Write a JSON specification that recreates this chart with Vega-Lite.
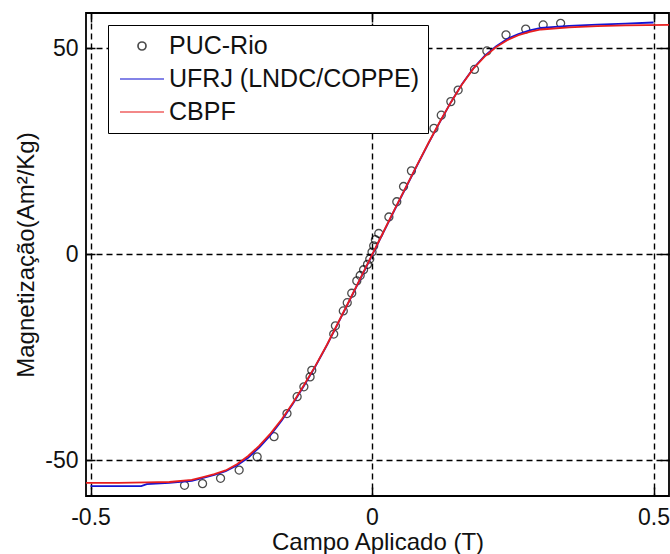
{
  "$schema": "https://vega.github.io/schema/vega-lite/v6.json",
  "width": 583,
  "height": 483,
  "autosize": {"type": "none"},
  "padding": {"left": 86, "top": 13, "right": 1, "bottom": 58},
  "background": "white",
  "config": {
    "font": "Liberation Sans",
    "view": {"stroke": "#000000", "strokeWidth": 1.8},
    "axis": {
      "domain": false,
      "grid": true,
      "gridColor": "#000000",
      "gridDash": [6, 4],
      "gridWidth": 1.4,
      "gridOpacity": 1,
      "tickColor": "#000000",
      "tickSize": -9,
      "tickWidth": 1.5,
      "labelFont": "Liberation Sans",
      "labelFontSize": 23,
      "labelColor": "#111111",
      "titleFont": "Liberation Sans",
      "titleFontSize": 24,
      "titleFontWeight": "normal",
      "titleColor": "#111111"
    },
    "legend": {
      "labelFont": "Liberation Sans",
      "labelFontSize": 25,
      "labelColor": "#111111",
      "labelLimit": 500
    }
  },
  "datasets": {
    "puc": [
      {"campo": -0.333, "mag": -56.1, "serie": "PUC-Rio"},
      {"campo": -0.301, "mag": -55.7, "serie": "PUC-Rio"},
      {"campo": -0.269, "mag": -54.4, "serie": "PUC-Rio"},
      {"campo": -0.236, "mag": -52.4, "serie": "PUC-Rio"},
      {"campo": -0.204, "mag": -49.2, "serie": "PUC-Rio"},
      {"campo": -0.174, "mag": -44.3, "serie": "PUC-Rio"},
      {"campo": -0.151, "mag": -38.7, "serie": "PUC-Rio"},
      {"campo": -0.133, "mag": -34.6, "serie": "PUC-Rio"},
      {"campo": -0.121, "mag": -32.2, "serie": "PUC-Rio"},
      {"campo": -0.110, "mag": -29.8, "serie": "PUC-Rio"},
      {"campo": -0.107, "mag": -28.2, "serie": "PUC-Rio"},
      {"campo": -0.068, "mag": -19.4, "serie": "PUC-Rio"},
      {"campo": -0.065, "mag": -17.4, "serie": "PUC-Rio"},
      {"campo": -0.051, "mag": -13.8, "serie": "PUC-Rio"},
      {"campo": -0.044, "mag": -11.8, "serie": "PUC-Rio"},
      {"campo": -0.036, "mag": -9.5, "serie": "PUC-Rio"},
      {"campo": -0.027, "mag": -6.5, "serie": "PUC-Rio"},
      {"campo": -0.021, "mag": -5.2, "serie": "PUC-Rio"},
      {"campo": -0.015, "mag": -3.8, "serie": "PUC-Rio"},
      {"campo": -0.008, "mag": -2.5, "serie": "PUC-Rio"},
      {"campo": -0.004, "mag": -1.2, "serie": "PUC-Rio"},
      {"campo": 0.000, "mag": 0.5, "serie": "PUC-Rio"},
      {"campo": 0.003, "mag": 2.0, "serie": "PUC-Rio"},
      {"campo": 0.006, "mag": 3.5, "serie": "PUC-Rio"},
      {"campo": 0.012, "mag": 5.0, "serie": "PUC-Rio"},
      {"campo": 0.030, "mag": 9.0, "serie": "PUC-Rio"},
      {"campo": 0.044, "mag": 12.7, "serie": "PUC-Rio"},
      {"campo": 0.056, "mag": 16.4, "serie": "PUC-Rio"},
      {"campo": 0.070, "mag": 20.2, "serie": "PUC-Rio"},
      {"campo": 0.110, "mag": 30.5, "serie": "PUC-Rio"},
      {"campo": 0.123, "mag": 33.7, "serie": "PUC-Rio"},
      {"campo": 0.140, "mag": 37.0, "serie": "PUC-Rio"},
      {"campo": 0.153, "mag": 39.8, "serie": "PUC-Rio"},
      {"campo": 0.182, "mag": 44.8, "serie": "PUC-Rio"},
      {"campo": 0.204, "mag": 49.3, "serie": "PUC-Rio"},
      {"campo": 0.238, "mag": 53.2, "serie": "PUC-Rio"},
      {"campo": 0.273, "mag": 54.6, "serie": "PUC-Rio"},
      {"campo": 0.304, "mag": 55.6, "serie": "PUC-Rio"},
      {"campo": 0.335, "mag": 56.0, "serie": "PUC-Rio"}
    ],
    "curvas": [
      {"campo": -0.500, "mag": -56.3, "serie": " UFRJ (LNDC/COPPE)"},
      {"campo": -0.410, "mag": -56.3, "serie": " UFRJ (LNDC/COPPE)"},
      {"campo": -0.400, "mag": -55.8, "serie": " UFRJ (LNDC/COPPE)"},
      {"campo": -0.360, "mag": -55.5, "serie": " UFRJ (LNDC/COPPE)"},
      {"campo": -0.320, "mag": -55.0, "serie": " UFRJ (LNDC/COPPE)"},
      {"campo": -0.300, "mag": -54.3, "serie": " UFRJ (LNDC/COPPE)"},
      {"campo": -0.280, "mag": -53.6, "serie": " UFRJ (LNDC/COPPE)"},
      {"campo": -0.260, "mag": -52.7, "serie": " UFRJ (LNDC/COPPE)"},
      {"campo": -0.240, "mag": -51.3, "serie": " UFRJ (LNDC/COPPE)"},
      {"campo": -0.220, "mag": -49.4, "serie": " UFRJ (LNDC/COPPE)"},
      {"campo": -0.200, "mag": -46.9, "serie": " UFRJ (LNDC/COPPE)"},
      {"campo": -0.180, "mag": -43.9, "serie": " UFRJ (LNDC/COPPE)"},
      {"campo": -0.160, "mag": -40.3, "serie": " UFRJ (LNDC/COPPE)"},
      {"campo": -0.140, "mag": -36.2, "serie": " UFRJ (LNDC/COPPE)"},
      {"campo": -0.120, "mag": -31.8, "serie": " UFRJ (LNDC/COPPE)"},
      {"campo": -0.100, "mag": -27.1, "serie": " UFRJ (LNDC/COPPE)"},
      {"campo": -0.080, "mag": -22.1, "serie": " UFRJ (LNDC/COPPE)"},
      {"campo": -0.060, "mag": -16.7, "serie": " UFRJ (LNDC/COPPE)"},
      {"campo": -0.040, "mag": -11.3, "serie": " UFRJ (LNDC/COPPE)"},
      {"campo": -0.020, "mag": -5.8, "serie": " UFRJ (LNDC/COPPE)"},
      {"campo": 0.000, "mag": -0.3, "serie": " UFRJ (LNDC/COPPE)"},
      {"campo": 0.020, "mag": 5.2, "serie": " UFRJ (LNDC/COPPE)"},
      {"campo": 0.040, "mag": 10.7, "serie": " UFRJ (LNDC/COPPE)"},
      {"campo": 0.060, "mag": 16.1, "serie": " UFRJ (LNDC/COPPE)"},
      {"campo": 0.080, "mag": 21.5, "serie": " UFRJ (LNDC/COPPE)"},
      {"campo": 0.100, "mag": 26.8, "serie": " UFRJ (LNDC/COPPE)"},
      {"campo": 0.120, "mag": 31.9, "serie": " UFRJ (LNDC/COPPE)"},
      {"campo": 0.140, "mag": 36.8, "serie": " UFRJ (LNDC/COPPE)"},
      {"campo": 0.160, "mag": 41.3, "serie": " UFRJ (LNDC/COPPE)"},
      {"campo": 0.180, "mag": 45.1, "serie": " UFRJ (LNDC/COPPE)"},
      {"campo": 0.200, "mag": 48.1, "serie": " UFRJ (LNDC/COPPE)"},
      {"campo": 0.220, "mag": 50.4, "serie": " UFRJ (LNDC/COPPE)"},
      {"campo": 0.240, "mag": 52.2, "serie": " UFRJ (LNDC/COPPE)"},
      {"campo": 0.260, "mag": 53.4, "serie": " UFRJ (LNDC/COPPE)"},
      {"campo": 0.280, "mag": 54.3, "serie": " UFRJ (LNDC/COPPE)"},
      {"campo": 0.300, "mag": 54.9, "serie": " UFRJ (LNDC/COPPE)"},
      {"campo": 0.350, "mag": 55.4, "serie": " UFRJ (LNDC/COPPE)"},
      {"campo": 0.400, "mag": 55.7, "serie": " UFRJ (LNDC/COPPE)"},
      {"campo": 0.450, "mag": 55.9, "serie": " UFRJ (LNDC/COPPE)"},
      {"campo": 0.500, "mag": 56.2, "serie": " UFRJ (LNDC/COPPE)"},
      {"campo": -0.508, "mag": -55.5, "serie": "CBPF"},
      {"campo": -0.450, "mag": -55.5, "serie": "CBPF"},
      {"campo": -0.400, "mag": -55.4, "serie": "CBPF"},
      {"campo": -0.360, "mag": -55.3, "serie": "CBPF"},
      {"campo": -0.320, "mag": -54.8, "serie": "CBPF"},
      {"campo": -0.300, "mag": -54.1, "serie": "CBPF"},
      {"campo": -0.280, "mag": -53.4, "serie": "CBPF"},
      {"campo": -0.260, "mag": -52.5, "serie": "CBPF"},
      {"campo": -0.240, "mag": -51.0, "serie": "CBPF"},
      {"campo": -0.220, "mag": -49.0, "serie": "CBPF"},
      {"campo": -0.200, "mag": -46.5, "serie": "CBPF"},
      {"campo": -0.180, "mag": -43.5, "serie": "CBPF"},
      {"campo": -0.160, "mag": -40.0, "serie": "CBPF"},
      {"campo": -0.140, "mag": -36.0, "serie": "CBPF"},
      {"campo": -0.120, "mag": -31.6, "serie": "CBPF"},
      {"campo": -0.100, "mag": -27.0, "serie": "CBPF"},
      {"campo": -0.080, "mag": -22.0, "serie": "CBPF"},
      {"campo": -0.060, "mag": -16.6, "serie": "CBPF"},
      {"campo": -0.040, "mag": -11.2, "serie": "CBPF"},
      {"campo": -0.020, "mag": -5.7, "serie": "CBPF"},
      {"campo": 0.000, "mag": -0.2, "serie": "CBPF"},
      {"campo": 0.020, "mag": 5.3, "serie": "CBPF"},
      {"campo": 0.040, "mag": 10.8, "serie": "CBPF"},
      {"campo": 0.060, "mag": 16.2, "serie": "CBPF"},
      {"campo": 0.080, "mag": 21.6, "serie": "CBPF"},
      {"campo": 0.100, "mag": 26.9, "serie": "CBPF"},
      {"campo": 0.120, "mag": 32.0, "serie": "CBPF"},
      {"campo": 0.140, "mag": 36.8, "serie": "CBPF"},
      {"campo": 0.160, "mag": 41.2, "serie": "CBPF"},
      {"campo": 0.180, "mag": 45.0, "serie": "CBPF"},
      {"campo": 0.200, "mag": 47.9, "serie": "CBPF"},
      {"campo": 0.220, "mag": 50.2, "serie": "CBPF"},
      {"campo": 0.240, "mag": 51.9, "serie": "CBPF"},
      {"campo": 0.260, "mag": 53.1, "serie": "CBPF"},
      {"campo": 0.280, "mag": 53.9, "serie": "CBPF"},
      {"campo": 0.300, "mag": 54.5, "serie": "CBPF"},
      {"campo": 0.350, "mag": 55.0, "serie": "CBPF"},
      {"campo": 0.400, "mag": 55.3, "serie": "CBPF"},
      {"campo": 0.450, "mag": 55.5, "serie": "CBPF"},
      {"campo": 0.5275, "mag": 55.6, "serie": "CBPF"}
    ]
  },
  "resolve": {"axis": {"x": "independent", "y": "independent"}},
  "layer": [
    {
      "data": {"name": "puc"},
      "mark": {"type": "point", "filled": false, "strokeWidth": 1.3, "size": 576, "clip": true},
      "encoding": {
        "x": {
          "field": "campo", "type": "quantitative",
          "scale": {"domain": [-0.508, 0.5275], "nice": false, "zero": false},
          "axis": {
            "values": [-0.5, 0, 0.5],
            "title": "Campo Aplicado (T)",
            "labelPadding": 19,
            "titlePadding": 1,
            "labelExpr": "datum.value == 0 ? '0' : replace(datum.label, '\u2212', '-')"
          }
        },
        "y": {
          "field": "mag", "type": "quantitative",
          "scale": {"domain": [-58.7, 58.5], "nice": false, "zero": false},
          "axis": {
            "values": [-50, 0, 50],
            "title": "Magnetização(Am²/Kg)",
            "labelPadding": 17,
            "titlePadding": 6,
            "labelExpr": "replace(datum.label, '\u2212', '-')"
          }
        },
        "color": {
          "field": "serie", "type": "nominal",
          "scale": {"domain": ["PUC-Rio", " UFRJ (LNDC/COPPE)", "CBPF"], "range": ["#000000", "#1414d2", "#e81e1e"]},
          "legend": {
            "title": null,
            "orient": "none",
            "legendX": 22,
            "legendY": 12,
            "symbolSize": 576,
            "symbolOffset": 13,
            "symbolStrokeWidth": 1.7,
            "labelOffset": 14,
            "padding": 8,
            "rowPadding": 7,
            "strokeColor": "#000000",
            "fillColor": "#ffffff"
          }
        },
        "shape": {
          "field": "serie", "type": "nominal",
          "scale": {
            "domain": ["PUC-Rio", " UFRJ (LNDC/COPPE)", "CBPF"],
            "range": ["M 0.333 0 A 0.333 0.333 0 1 1 -0.333 0 A 0.333 0.333 0 1 1 0.333 0 Z", "M -1.833 0 L 1.833 0", "M -1.833 0 L 1.833 0"]
          },
          "legend": {
            "title": null,
            "orient": "none",
            "legendX": 22,
            "legendY": 12,
            "symbolSize": 576,
            "symbolOffset": 13,
            "symbolStrokeWidth": 1.7,
            "labelOffset": 14,
            "padding": 8,
            "rowPadding": 7,
            "strokeColor": "#000000",
            "fillColor": "#ffffff"
          }
        }
      }
    },
    {
      "data": {"name": "curvas"},
      "mark": {"type": "line", "strokeWidth": 1.8, "clip": true},
      "encoding": {
        "x": {
          "field": "campo", "type": "quantitative",
          "axis": {"orient": "top", "values": [-0.5, 0, 0.5], "labels": false, "grid": false, "title": null}
        },
        "y": {
          "field": "mag", "type": "quantitative",
          "axis": {"orient": "right", "values": [-50, 0, 50], "labels": false, "grid": false, "title": null}
        },
        "color": {"field": "serie", "type": "nominal"}
      }
    }
  ]
}
